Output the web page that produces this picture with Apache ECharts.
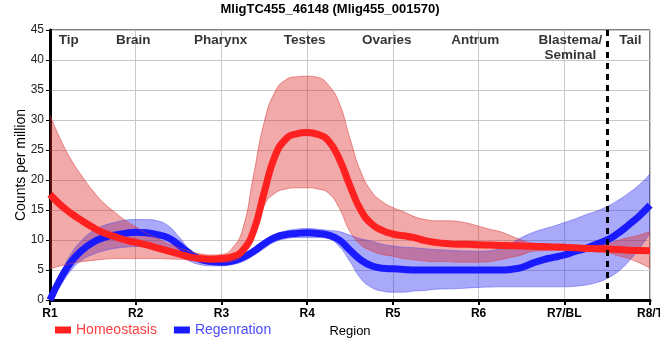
<!DOCTYPE html>
<html><head><meta charset="utf-8">
<script src="https://cdn.jsdelivr.net/npm/echarts@6/dist/echarts.min.js"></script>
<style>html,body{margin:0;padding:0;background:#fff}#c{width:660px;height:360px}</style>
</head><body><div id="c"></div>
<script>
const title = 'MligTC455_46148 (Mlig455_001570)';
const regions = ['R1','R2','R3','R4','R5','R6','R7/BL','R8/T'];
// sample positions along the region axis (R1 = 1 ... R8/T = 8), every 1/8 region
const positions = [1,1.125,1.25,1.375,1.5,1.625,1.75,1.875,2,2.125,2.25,2.375,2.5,2.625,2.75,2.875,
  3,3.125,3.25,3.375,3.5,3.625,3.75,3.875,4,4.125,4.25,4.375,4.5,4.625,4.75,4.875,
  5,5.125,5.25,5.375,5.5,5.625,5.75,5.875,6,6.125,6.25,6.375,6.5,6.625,6.75,6.875,
  7,7.125,7.25,7.375,7.5,7.625,7.75,7.875,8];
const homeo = [17.6,15.8,14.4,13.2,12.1,11.2,10.6,10.0,9.6,9.2,8.7,8.2,7.7,7.2,6.9,6.8,
  6.9,7.2,8.3,11.5,18,24,26.8,27.7,27.9,27.6,26.5,23.5,19,15,12.7,11.6,
  11.0,10.7,10.4,9.9,9.6,9.4,9.3,9.3,9.2,9.15,9.1,9.05,9.0,8.95,8.9,8.85,
  8.8,8.7,8.6,8.55,8.5,8.4,8.3,8.25,8.2];
const homeoUpper = [30.8,26.7,23.3,20.6,18.2,16.2,14.7,13.3,12.2,11.1,10.3,9.4,8.7,8.1,7.7,7.5,
  7.6,8.6,11.9,20.8,29.7,34.7,36.7,37.2,37.3,37.1,35.8,32.8,26.9,21.4,18.1,16.4,
  15.4,14.7,13.9,13.4,13.2,13.2,13.1,12.8,12.3,11.8,11.4,10.7,10.0,9.4,9.1,8.9,
  8.8,8.8,8.9,9.1,9.3,9.9,10.4,10.8,11.4];
const homeoLower = [5.2,5.7,6.1,6.4,6.6,6.8,6.9,6.9,6.9,6.9,6.9,6.85,6.8,6.7,6.5,6.4,
  6.3,6.5,7.5,10.3,15.8,17.8,18.5,18.7,18.7,18.5,17.8,15.3,11.4,9.2,8.2,7.6,
  7.3,6.9,6.7,6.5,6.4,6.4,6.3,6.3,6.3,6.4,6.7,7.1,7.5,8.1,8.2,8.3,
  8.3,8.3,8.2,8.0,7.9,7.4,6.9,6.2,5.3];
const regen = [0,3.6,6.4,8.3,9.6,10.4,10.8,11.1,11.3,11.2,10.9,10.4,9.2,7.8,6.8,6.4,
  6.3,6.5,7.1,8.1,9.4,10.4,10.9,11.1,11.2,11.1,10.8,10.0,8.3,6.7,5.7,5.3,
  5.2,5.1,5.0,5.0,5.0,5.0,5.0,5.0,5.0,5.0,5.0,5.1,5.4,6.1,6.7,7.1,
  7.5,8.1,8.6,9.3,10.0,11.1,12.5,14.0,15.8];
const regenUpper = [0.4,4.4,7.8,10.0,11.5,12.4,12.9,13.3,13.4,13.4,13.2,12.4,10.6,8.5,7.4,6.9,
  6.8,6.9,7.5,8.5,9.9,10.9,11.5,11.8,11.9,11.8,11.6,11.4,10.8,10.2,9.8,9.3,
  9.0,8.8,8.7,8.55,8.4,8.3,8.2,8.15,8.1,8.2,8.6,9.4,10.4,11.2,11.8,12.3,
  12.9,13.5,14.2,14.8,15.6,16.6,17.8,19.2,21.0];
const regenLower = [0,2.5,5.0,6.7,7.6,8.2,8.6,8.8,8.9,8.9,8.7,8.3,7.4,6.5,5.9,5.7,
  5.7,5.9,6.4,7.4,8.6,9.7,10.2,10.4,10.4,10.4,10.2,8.9,6.4,3.6,2.1,1.5,
  1.3,1.3,1.5,1.6,1.8,1.85,1.9,2.0,2.1,2.15,2.2,2.2,2.2,2.2,2.2,2.2,
  2.2,2.3,2.5,2.9,3.6,4.7,6.4,8.6,11.1];
const tissueNames = ['Tip','Brain','Pharynx','Testes','Ovaries','Antrum','Blastema/\nSeminal','Tail'];
const tissuePos   = [1.22,1.97,2.99,3.97,4.93,5.96,7.07,7.77];
const tissueY = 44.6;
const dividerAt = 7.5;

const font = 'Liberation Sans, Arial, sans-serif';
const diff = (u, l) => u.map((v, i) => +(v - l[i]).toFixed(3));

function band(name, lower, upper, fill, edge, stack) {
  return [
    { name: name + '_lo', type: 'line', stack: stack, data: lower, smooth: true, symbol: 'none',
      lineStyle: { width: 1, color: edge }, silent: true },
    { name: name + '_hi', type: 'line', stack: stack, data: diff(upper, lower), smooth: true, symbol: 'none',
      lineStyle: { width: 1, color: edge }, areaStyle: { color: fill, opacity: 1 }, silent: true }
  ];
}

const chart = echarts.init(document.getElementById('c'), null, { renderer: 'canvas' });
chart.setOption({
  animation: false,
  title: { text: title, left: 'center', top: 3, padding: 0,
    textStyle: { fontFamily: font, fontSize: 13, fontWeight: 'bold', color: '#000' } },
  grid: { left: 50, right: 10, top: 30, bottom: 60, outerBoundsMode: 'none', containLabel: false,
    show: true, borderColor: '#000', borderWidth: 1, backgroundColor: 'transparent' },
  legend: {
    left: 55, top: 323, padding: 0, itemWidth: 16, itemHeight: 7, itemGap: 17, icon: 'rect',
    data: [
      { name: 'Homeostasis', textStyle: { color: '#ff4040' } },
      { name: 'Regenration', textStyle: { color: '#4a4aff' } }
    ],
    textStyle: { fontFamily: font, fontSize: 14 }
  },
  xAxis: [{
    type: 'category', data: positions.map(String), boundaryGap: false,
    name: 'Region', nameLocation: 'middle', nameGap: 25,
    nameTextStyle: { fontFamily: font, fontSize: 13, color: '#000' },
    axisLine: { lineStyle: { color: '#000', width: 3 } },
    axisTick: { interval: 7, length: 5, lineStyle: { color: '#000', width: 2 } },
    axisLabel: { interval: 0, margin: 8, fontFamily: font, fontSize: 12, fontWeight: 'bold', color: '#000',
      formatter: (v, i) => (i % 8 === 0 ? regions[i / 8] : '') },
    splitLine: { show: true, interval: 7, lineStyle: { color: '#c8c8c8', width: 1 } }
  }, {
    type: 'value', min: 1, max: 8, show: false
  }],
  yAxis: {
    type: 'value', min: 0, max: 45, interval: 5,
    name: 'Counts per million', nameLocation: 'middle', nameGap: 22, nameMoveOverlap: false,
    nameTextStyle: { fontFamily: font, fontSize: 14, color: '#000' },
    axisLine: { show: true, lineStyle: { color: '#000', width: 3 } },
    axisTick: { show: true, length: 4, lineStyle: { color: '#000' } },
    axisLabel: { fontFamily: font, fontSize: 12, color: '#222', margin: 6 },
    splitLine: { lineStyle: { color: '#c8c8c8', width: 1 } }
  },
  series: [
    ...band('regenBand', regenLower, regenUpper, 'rgba(40,40,240,0.4)', 'rgba(80,80,240,0.5)', 'rb'),
    { name: 'Regenration', type: 'line', data: regen, smooth: true, symbol: 'none', color: '#1a1aff',
      lineStyle: { width: 7, color: '#1a1aff' } },
    ...band('homeoBand', homeoLower, homeoUpper, 'rgba(220,40,40,0.4)', 'rgba(220,60,60,0.55)', 'hb'),
    { name: 'Homeostasis', type: 'line', data: homeo, smooth: true, symbol: 'none', color: '#ff2020',
      lineStyle: { width: 7, color: '#ff2020' } },
    { name: 'tissues', type: 'scatter', xAxisIndex: 1, symbolSize: 0, silent: true,
      data: tissueNames.map((n, i) => ({ value: [tissuePos[i], tissueY], name: n })),
      label: { show: true, position: 'inside', formatter: p => p.name, verticalAlign: 'top', align: 'center',
        fontFamily: font, fontSize: 13.5, fontWeight: 'bold', color: '#000', lineHeight: 15 },
      markLine: { symbol: 'none', silent: true, label: { show: false },
        lineStyle: { color: '#000', width: 3, type: [6, 5] },
        data: [{ xAxis: dividerAt }] } }
  ]
});
</script></body></html>
